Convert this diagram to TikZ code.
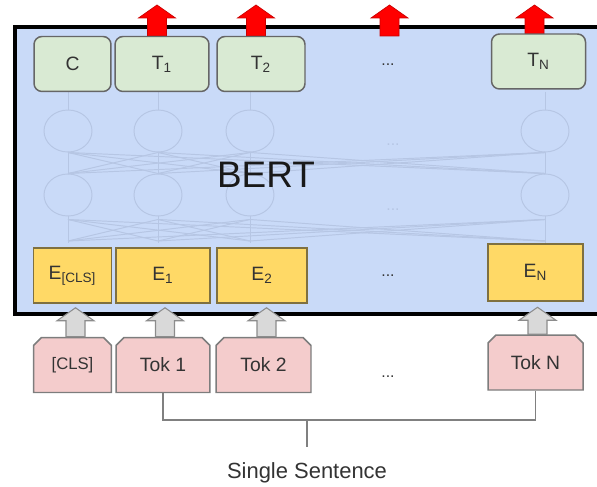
\documentclass[tikz,border=0pt]{standalone}
\usepackage{fontspec}
\setmainfont{Liberation Sans}
\usetikzlibrary{shapes.misc,shapes.geometric,calc}
\definecolor{bertblue}{HTML}{C9DAF8}
\definecolor{netgray}{HTML}{B6C6E4}
\definecolor{tgreen}{HTML}{D9EAD3}
\definecolor{eyellow}{HTML}{FFD966}
\definecolor{embedge}{HTML}{7F7040}
\definecolor{tokpink}{HTML}{F4CCCC}
\definecolor{boxgray}{HTML}{666666}
\definecolor{txtgray}{HTML}{333333}
\newcommand{\boxfont}{\fontsize{11pt}{13pt}\selectfont}
% upward block arrow: style, base point, length
\newcommand{\blockup}[3]{\draw[#1] (#2) ++(-9.5,0) -- ++(0,{#3-13}) -- ++(-9,0) -- ++(18.5,13) -- ++(18.5,-13) -- ++(-9,0) -- ++(0,{13-#3}) -- cycle;}
\tikzset{
  outbox/.style={draw=boxgray, line width=0.85pt, fill=tgreen, rounded corners=0.16cm, minimum height=1.1cm, text=txtgray, font=\boxfont},
  embbox/.style={draw=embedge, line width=0.85pt, fill=eyellow, minimum height=1.1cm, text=txtgray, font=\boxfont},
  tokbox/.style={chamfered rectangle, chamfered rectangle corners={north west,north east}, chamfered rectangle sep=0.08cm, draw=boxgray!85, line width=0.85pt, fill=tokpink, minimum height=1.1cm, text=txtgray, font=\boxfont},
  dotsnode/.style={text=txtgray, font=\fontsize{9pt}{10pt}\selectfont},
  netnode/.style={ellipse, draw=netgray, line width=0.55pt, minimum width=0.96cm, minimum height=0.84cm},
  netline/.style={draw=netgray, line width=0.55pt},
  redarrow/.style={fill=red, draw=red!80!black, line width=0.4pt},
  grayarrow/.style={fill=black!15, draw=black!45, line width=0.6pt},
  bracket/.style={draw=black!50, line width=0.8pt}
}
\begin{document}
\begin{tikzpicture}[x=0.02cm,y=0.02cm]
\useasboundingbox (0,0) rectangle (597,-486);
\clip (0,0) rectangle (597,-486);

% the BERT block
\draw[line width=0.08cm, fill=bertblue] (14.5,-27) rectangle (640,-314);

% faint network behind the label
\foreach \x [count=\i] in {68,158,250,545} {
  \node[netnode] (h1\i) at (\x,-131) {};
  \node[netnode] (h2\i) at (\x,-195) {};
  \coordinate (top\i) at (\x,-92);
  \coordinate (bot\i) at (\x,-243);
  \draw[netline] (top\i) -- (h1\i.north);
  \draw[netline] (h1\i.south) -- (h2\i.north);
  \draw[netline] (h2\i.south) -- (bot\i);
}
\foreach \i in {1,...,4} {
  \foreach \j in {1,...,4} {
    \draw[netline] (h1\i.south) -- (h2\j.north);
    \draw[netline] ($(h2\i.south)+(0,-3)$) -- ($(bot\j)+(0,2)$);
  }
}
\node[text=netgray, font=\fontsize{9pt}{10pt}\selectfont] (netdotsA) at (393,-145) {...};
\node[text=netgray, font=\fontsize{9pt}{10pt}\selectfont] (netdotsB) at (393,-210) {...};

\node[text=black!90, font=\fontsize{21pt}{24pt}\selectfont] (bert) at (266,-175) {BERT};

% outputs
\coordinate (outdots) at (389.5,-36);
\blockup{redarrow}{$(162,-36)+(-5,0)$}{31}
\blockup{redarrow}{$(261,-36)+(-5,0)$}{31}
\blockup{redarrow}{outdots}{31}
\blockup{redarrow}{$(538.5,-36)+(-4,0)$}{31}

\node[outbox, minimum width=1.54cm] (C) at (72.5,-64) {C};
\node[outbox, minimum width=1.88cm] (T1) at (162,-64) {T\textsubscript{1}};
\node[outbox, minimum width=1.76cm] (T2) at (261,-64) {T\textsubscript{2}};
\node[dotsnode] (dotsT) at (388,-65) {...};
\node[outbox, minimum width=1.88cm] (TN) at (538.5,-61.5) {T\textsubscript{N}};

% embeddings
\node[embbox, minimum width=1.56cm] (Ecls) at (72.5,-275.5) {E\textsubscript{[CLS]}};
\node[embbox, minimum width=1.88cm] (E1) at (163,-275.5) {E\textsubscript{1}};
\node[embbox, minimum width=1.80cm] (E2) at (262,-275.5) {E\textsubscript{2}};
\node[dotsnode] (dotsE) at (388,-276) {...};
\node[embbox, minimum width=1.90cm, minimum height=1.14cm] (EN) at (535.5,-272.5) {E\textsubscript{N}};

% input tokens
\node[tokbox, minimum width=1.56cm, font=\fontsize{9.5pt}{11pt}\selectfont] (cls) at (72.5,-365) {[CLS]};
\node[tokbox, minimum width=1.88cm] (tok1) at (163,-365) {Tok 1};
\node[tokbox, minimum width=1.90cm] (tok2) at (263.5,-365) {Tok 2};
\node[dotsnode] (dotsTok) at (388,-377) {...};
\node[tokbox, minimum width=1.90cm] (tokN) at (535.5,-362.5) {Tok N};

\blockup{grayarrow}{$(cls.north)+(3,0)$}{29}
\blockup{grayarrow}{$(tok1.north)+(2,0)$}{29}
\blockup{grayarrow}{$(tok2.north)+(3,0)$}{29}
\blockup{grayarrow}{$(tokN.north)+(2,0)$}{27}

% sentence bracket
\coordinate (brkmid) at (307,-420);
\draw[bracket] (tok1.south) |- (brkmid) -| (tokN.south);
\draw[bracket] (brkmid) -- ++(0,-27);
\node[text=txtgray, font=\fontsize{12.5pt}{15pt}\selectfont] (sentence) at (307,-473) {Single Sentence};
\end{tikzpicture}
\end{document}
